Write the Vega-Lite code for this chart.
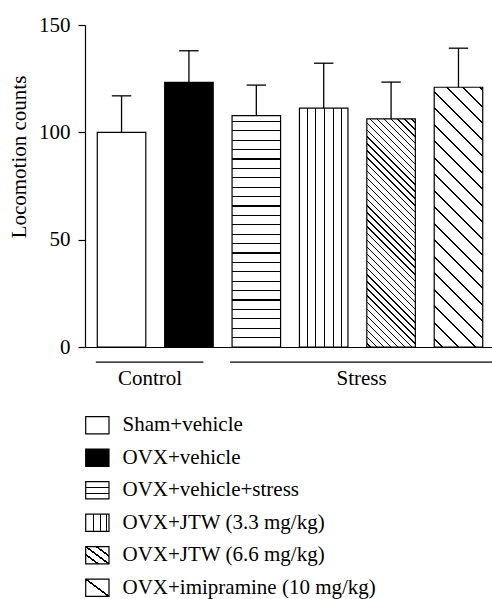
{
  "$schema": "https://vega.github.io/schema/vega-lite/v6.json",
  "padding": {"left": 8, "top": 14, "right": 0, "bottom": 0},
  "datasets": {
    "bars": [
      {"group": "Sham+vehicle", "mean": 100, "upper": 117},
      {"group": "OVX+vehicle", "mean": 123.3, "upper": 138},
      {"group": "OVX+vehicle+stress", "mean": 107.8, "upper": 122},
      {"group": "OVX+JTW (3.3 mg/kg)", "mean": 111.3, "upper": 132.2},
      {"group": "OVX+JTW (6.6 mg/kg)", "mean": 106.3, "upper": 123.4},
      {"group": "OVX+imipramine (10 mg/kg)", "mean": 121, "upper": 139.2}
    ],
    "groups": [
      {"group": "Control", "first": "Sham+vehicle", "last": "OVX+vehicle"},
      {"group": "Stress", "first": "OVX+vehicle+stress", "last": "OVX+imipramine (10 mg/kg)"}
    ]
  },
  "spacing": 20,
  "vconcat": [
    {
      "width": 407,
      "height": 322,
      "layer": [
        {
          "data": {"name": "bars"},
          "mark": {"type": "bar", "stroke": "#000", "strokeWidth": 1.2},
          "encoding": {
            "x": {"field": "group", "type": "nominal", "sort": null,
              "scale": {"domain": ["Sham+vehicle", "OVX+vehicle", "OVX+vehicle+stress", "OVX+JTW (3.3 mg/kg)", "OVX+JTW (6.6 mg/kg)", "OVX+imipramine (10 mg/kg)"], "paddingInner": 0.28, "paddingOuter": 0.16, "align": 0.57},
              "axis": {"title": null, "labels": false, "ticks": false, "domain": true, "domainColor": "#000", "domainWidth": 1.2}},
            "y": {"field": "mean", "type": "quantitative",
              "scale": {"domain": [0, 150], "nice": false},
              "axis": {"title": "Locomotion counts", "values": [0, 50, 100, 150], "tickSize": 7, "labelPadding": 8, "grid": false,
                "titleX": -59.5, "titleY": 131.5, "titleBaseline": "alphabetic"}},
            "fill": {
              "condition": [
                {"test": "datum.group === 'OVX+vehicle'", "value": "#000"},
                {"test": "datum.group === 'OVX+vehicle+stress'", "value": {"gradient": "linear", "x1": 0, "y1": 0, "x2": 0, "y2": 1, "stops": [
                  {"offset": 0, "color": "#fff"},
                  {"offset": 0.0226, "color": "#fff"}, {"offset": 0.0226, "color": "#000"}, {"offset": 0.0276, "color": "#000"}, {"offset": 0.0276, "color": "#fff"},
                  {"offset": 0.0632, "color": "#fff"}, {"offset": 0.0632, "color": "#000"}, {"offset": 0.0682, "color": "#000"}, {"offset": 0.0682, "color": "#fff"},
                  {"offset": 0.1038, "color": "#fff"}, {"offset": 0.1038, "color": "#000"}, {"offset": 0.1088, "color": "#000"}, {"offset": 0.1088, "color": "#fff"},
                  {"offset": 0.1444, "color": "#fff"}, {"offset": 0.1444, "color": "#000"}, {"offset": 0.1494, "color": "#000"}, {"offset": 0.1494, "color": "#fff"},
                  {"offset": 0.1851, "color": "#fff"}, {"offset": 0.1851, "color": "#000"}, {"offset": 0.1901, "color": "#000"}, {"offset": 0.1901, "color": "#fff"},
                  {"offset": 0.2257, "color": "#fff"}, {"offset": 0.2257, "color": "#000"}, {"offset": 0.2307, "color": "#000"}, {"offset": 0.2307, "color": "#fff"},
                  {"offset": 0.2663, "color": "#fff"}, {"offset": 0.2663, "color": "#000"}, {"offset": 0.2713, "color": "#000"}, {"offset": 0.2713, "color": "#fff"},
                  {"offset": 0.3069, "color": "#fff"}, {"offset": 0.3069, "color": "#000"}, {"offset": 0.3119, "color": "#000"}, {"offset": 0.3119, "color": "#fff"},
                  {"offset": 0.3475, "color": "#fff"}, {"offset": 0.3475, "color": "#000"}, {"offset": 0.3525, "color": "#000"}, {"offset": 0.3525, "color": "#fff"},
                  {"offset": 0.3882, "color": "#fff"}, {"offset": 0.3882, "color": "#000"}, {"offset": 0.3932, "color": "#000"}, {"offset": 0.3932, "color": "#fff"},
                  {"offset": 0.4288, "color": "#fff"}, {"offset": 0.4288, "color": "#000"}, {"offset": 0.4338, "color": "#000"}, {"offset": 0.4338, "color": "#fff"},
                  {"offset": 0.4694, "color": "#fff"}, {"offset": 0.4694, "color": "#000"}, {"offset": 0.4744, "color": "#000"}, {"offset": 0.4744, "color": "#fff"},
                  {"offset": 0.5100, "color": "#fff"}, {"offset": 0.5100, "color": "#000"}, {"offset": 0.5150, "color": "#000"}, {"offset": 0.5150, "color": "#fff"},
                  {"offset": 0.5507, "color": "#fff"}, {"offset": 0.5507, "color": "#000"}, {"offset": 0.5557, "color": "#000"}, {"offset": 0.5557, "color": "#fff"},
                  {"offset": 0.5913, "color": "#fff"}, {"offset": 0.5913, "color": "#000"}, {"offset": 0.5963, "color": "#000"}, {"offset": 0.5963, "color": "#fff"},
                  {"offset": 0.6319, "color": "#fff"}, {"offset": 0.6319, "color": "#000"}, {"offset": 0.6369, "color": "#000"}, {"offset": 0.6369, "color": "#fff"},
                  {"offset": 0.6725, "color": "#fff"}, {"offset": 0.6725, "color": "#000"}, {"offset": 0.6775, "color": "#000"}, {"offset": 0.6775, "color": "#fff"},
                  {"offset": 0.7131, "color": "#fff"}, {"offset": 0.7131, "color": "#000"}, {"offset": 0.7181, "color": "#000"}, {"offset": 0.7181, "color": "#fff"},
                  {"offset": 0.7538, "color": "#fff"}, {"offset": 0.7538, "color": "#000"}, {"offset": 0.7588, "color": "#000"}, {"offset": 0.7588, "color": "#fff"},
                  {"offset": 0.7944, "color": "#fff"}, {"offset": 0.7944, "color": "#000"}, {"offset": 0.7994, "color": "#000"}, {"offset": 0.7994, "color": "#fff"},
                  {"offset": 0.8350, "color": "#fff"}, {"offset": 0.8350, "color": "#000"}, {"offset": 0.8400, "color": "#000"}, {"offset": 0.8400, "color": "#fff"},
                  {"offset": 0.8756, "color": "#fff"}, {"offset": 0.8756, "color": "#000"}, {"offset": 0.8806, "color": "#000"}, {"offset": 0.8806, "color": "#fff"},
                  {"offset": 0.9163, "color": "#fff"}, {"offset": 0.9163, "color": "#000"}, {"offset": 0.9213, "color": "#000"}, {"offset": 0.9213, "color": "#fff"},
                  {"offset": 0.9569, "color": "#fff"}, {"offset": 0.9569, "color": "#000"}, {"offset": 0.9619, "color": "#000"}, {"offset": 0.9619, "color": "#fff"},
                  {"offset": 1, "color": "#fff"}
                ]}},
                {"test": "datum.group === 'OVX+JTW (3.3 mg/kg)'", "value": {"gradient": "linear", "x1": 0, "y1": 0, "x2": 1, "y2": 0, "stops": [
                  {"offset": 0, "color": "#fff"},
                  {"offset": 0.1535, "color": "#fff"}, {"offset": 0.1535, "color": "#000"}, {"offset": 0.1761, "color": "#000"}, {"offset": 0.1761, "color": "#fff"},
                  {"offset": 0.3266, "color": "#fff"}, {"offset": 0.3266, "color": "#000"}, {"offset": 0.3492, "color": "#000"}, {"offset": 0.3492, "color": "#fff"},
                  {"offset": 0.5121, "color": "#fff"}, {"offset": 0.5121, "color": "#000"}, {"offset": 0.5347, "color": "#000"}, {"offset": 0.5347, "color": "#fff"},
                  {"offset": 0.6893, "color": "#fff"}, {"offset": 0.6893, "color": "#000"}, {"offset": 0.7119, "color": "#000"}, {"offset": 0.7119, "color": "#fff"},
                  {"offset": 0.8541, "color": "#fff"}, {"offset": 0.8541, "color": "#000"}, {"offset": 0.8767, "color": "#000"}, {"offset": 0.8767, "color": "#fff"},
                  {"offset": 1, "color": "#fff"}
                ]}},
                {"test": "datum.group === 'OVX+JTW (6.6 mg/kg)'", "value": {"gradient": "linear", "x1": 0, "y1": 1, "x2": 0.2467, "y2": -0.1602, "stops": [
                  {"offset": 0, "color": "#fff"},
                  {"offset": 0.0102, "color": "#fff"}, {"offset": 0.0102, "color": "#000"}, {"offset": 0.0152, "color": "#000"}, {"offset": 0.0152, "color": "#fff"},
                  {"offset": 0.0351, "color": "#fff"}, {"offset": 0.0351, "color": "#000"}, {"offset": 0.0401, "color": "#000"}, {"offset": 0.0401, "color": "#fff"},
                  {"offset": 0.0600, "color": "#fff"}, {"offset": 0.0600, "color": "#000"}, {"offset": 0.0650, "color": "#000"}, {"offset": 0.0650, "color": "#fff"},
                  {"offset": 0.0850, "color": "#fff"}, {"offset": 0.0850, "color": "#000"}, {"offset": 0.0900, "color": "#000"}, {"offset": 0.0900, "color": "#fff"},
                  {"offset": 0.1099, "color": "#fff"}, {"offset": 0.1099, "color": "#000"}, {"offset": 0.1149, "color": "#000"}, {"offset": 0.1149, "color": "#fff"},
                  {"offset": 0.1348, "color": "#fff"}, {"offset": 0.1348, "color": "#000"}, {"offset": 0.1398, "color": "#000"}, {"offset": 0.1398, "color": "#fff"},
                  {"offset": 0.1598, "color": "#fff"}, {"offset": 0.1598, "color": "#000"}, {"offset": 0.1648, "color": "#000"}, {"offset": 0.1648, "color": "#fff"},
                  {"offset": 0.1847, "color": "#fff"}, {"offset": 0.1847, "color": "#000"}, {"offset": 0.1897, "color": "#000"}, {"offset": 0.1897, "color": "#fff"},
                  {"offset": 0.2096, "color": "#fff"}, {"offset": 0.2096, "color": "#000"}, {"offset": 0.2146, "color": "#000"}, {"offset": 0.2146, "color": "#fff"},
                  {"offset": 0.2346, "color": "#fff"}, {"offset": 0.2346, "color": "#000"}, {"offset": 0.2396, "color": "#000"}, {"offset": 0.2396, "color": "#fff"},
                  {"offset": 0.2595, "color": "#fff"}, {"offset": 0.2595, "color": "#000"}, {"offset": 0.2645, "color": "#000"}, {"offset": 0.2645, "color": "#fff"},
                  {"offset": 0.2844, "color": "#fff"}, {"offset": 0.2844, "color": "#000"}, {"offset": 0.2894, "color": "#000"}, {"offset": 0.2894, "color": "#fff"},
                  {"offset": 0.3094, "color": "#fff"}, {"offset": 0.3094, "color": "#000"}, {"offset": 0.3144, "color": "#000"}, {"offset": 0.3144, "color": "#fff"},
                  {"offset": 0.3343, "color": "#fff"}, {"offset": 0.3343, "color": "#000"}, {"offset": 0.3393, "color": "#000"}, {"offset": 0.3393, "color": "#fff"},
                  {"offset": 0.3592, "color": "#fff"}, {"offset": 0.3592, "color": "#000"}, {"offset": 0.3642, "color": "#000"}, {"offset": 0.3642, "color": "#fff"},
                  {"offset": 0.3842, "color": "#fff"}, {"offset": 0.3842, "color": "#000"}, {"offset": 0.3892, "color": "#000"}, {"offset": 0.3892, "color": "#fff"},
                  {"offset": 0.4091, "color": "#fff"}, {"offset": 0.4091, "color": "#000"}, {"offset": 0.4141, "color": "#000"}, {"offset": 0.4141, "color": "#fff"},
                  {"offset": 0.4340, "color": "#fff"}, {"offset": 0.4340, "color": "#000"}, {"offset": 0.4390, "color": "#000"}, {"offset": 0.4390, "color": "#fff"},
                  {"offset": 0.4590, "color": "#fff"}, {"offset": 0.4590, "color": "#000"}, {"offset": 0.4640, "color": "#000"}, {"offset": 0.4640, "color": "#fff"},
                  {"offset": 0.4839, "color": "#fff"}, {"offset": 0.4839, "color": "#000"}, {"offset": 0.4889, "color": "#000"}, {"offset": 0.4889, "color": "#fff"},
                  {"offset": 0.5088, "color": "#fff"}, {"offset": 0.5088, "color": "#000"}, {"offset": 0.5138, "color": "#000"}, {"offset": 0.5138, "color": "#fff"},
                  {"offset": 0.5338, "color": "#fff"}, {"offset": 0.5338, "color": "#000"}, {"offset": 0.5388, "color": "#000"}, {"offset": 0.5388, "color": "#fff"},
                  {"offset": 0.5587, "color": "#fff"}, {"offset": 0.5587, "color": "#000"}, {"offset": 0.5637, "color": "#000"}, {"offset": 0.5637, "color": "#fff"},
                  {"offset": 0.5836, "color": "#fff"}, {"offset": 0.5836, "color": "#000"}, {"offset": 0.5886, "color": "#000"}, {"offset": 0.5886, "color": "#fff"},
                  {"offset": 0.6086, "color": "#fff"}, {"offset": 0.6086, "color": "#000"}, {"offset": 0.6136, "color": "#000"}, {"offset": 0.6136, "color": "#fff"},
                  {"offset": 0.6335, "color": "#fff"}, {"offset": 0.6335, "color": "#000"}, {"offset": 0.6385, "color": "#000"}, {"offset": 0.6385, "color": "#fff"},
                  {"offset": 0.6584, "color": "#fff"}, {"offset": 0.6584, "color": "#000"}, {"offset": 0.6634, "color": "#000"}, {"offset": 0.6634, "color": "#fff"},
                  {"offset": 0.6834, "color": "#fff"}, {"offset": 0.6834, "color": "#000"}, {"offset": 0.6884, "color": "#000"}, {"offset": 0.6884, "color": "#fff"},
                  {"offset": 0.7083, "color": "#fff"}, {"offset": 0.7083, "color": "#000"}, {"offset": 0.7133, "color": "#000"}, {"offset": 0.7133, "color": "#fff"},
                  {"offset": 0.7332, "color": "#fff"}, {"offset": 0.7332, "color": "#000"}, {"offset": 0.7382, "color": "#000"}, {"offset": 0.7382, "color": "#fff"},
                  {"offset": 0.7582, "color": "#fff"}, {"offset": 0.7582, "color": "#000"}, {"offset": 0.7632, "color": "#000"}, {"offset": 0.7632, "color": "#fff"},
                  {"offset": 0.7831, "color": "#fff"}, {"offset": 0.7831, "color": "#000"}, {"offset": 0.7881, "color": "#000"}, {"offset": 0.7881, "color": "#fff"},
                  {"offset": 0.8080, "color": "#fff"}, {"offset": 0.8080, "color": "#000"}, {"offset": 0.8130, "color": "#000"}, {"offset": 0.8130, "color": "#fff"},
                  {"offset": 0.8330, "color": "#fff"}, {"offset": 0.8330, "color": "#000"}, {"offset": 0.8380, "color": "#000"}, {"offset": 0.8380, "color": "#fff"},
                  {"offset": 0.8579, "color": "#fff"}, {"offset": 0.8579, "color": "#000"}, {"offset": 0.8629, "color": "#000"}, {"offset": 0.8629, "color": "#fff"},
                  {"offset": 0.8828, "color": "#fff"}, {"offset": 0.8828, "color": "#000"}, {"offset": 0.8878, "color": "#000"}, {"offset": 0.8878, "color": "#fff"},
                  {"offset": 0.9078, "color": "#fff"}, {"offset": 0.9078, "color": "#000"}, {"offset": 0.9128, "color": "#000"}, {"offset": 0.9128, "color": "#fff"},
                  {"offset": 0.9327, "color": "#fff"}, {"offset": 0.9327, "color": "#000"}, {"offset": 0.9377, "color": "#000"}, {"offset": 0.9377, "color": "#fff"},
                  {"offset": 0.9576, "color": "#fff"}, {"offset": 0.9576, "color": "#000"}, {"offset": 0.9626, "color": "#000"}, {"offset": 0.9626, "color": "#fff"},
                  {"offset": 0.9826, "color": "#fff"}, {"offset": 0.9826, "color": "#000"}, {"offset": 0.9876, "color": "#000"}, {"offset": 0.9876, "color": "#fff"},
                  {"offset": 1, "color": "#fff"}
                ]}},
                {"test": "datum.group === 'OVX+imipramine (10 mg/kg)'", "value": {"gradient": "linear", "x1": 0, "y1": 1, "x2": 0.2143, "y2": -0.1468, "stops": [
                  {"offset": 0, "color": "#fff"},
                  {"offset": 0.0226, "color": "#fff"}, {"offset": 0.0226, "color": "#000"}, {"offset": 0.0294, "color": "#000"}, {"offset": 0.0294, "color": "#fff"},
                  {"offset": 0.0761, "color": "#fff"}, {"offset": 0.0761, "color": "#000"}, {"offset": 0.0829, "color": "#000"}, {"offset": 0.0829, "color": "#fff"},
                  {"offset": 0.1296, "color": "#fff"}, {"offset": 0.1296, "color": "#000"}, {"offset": 0.1364, "color": "#000"}, {"offset": 0.1364, "color": "#fff"},
                  {"offset": 0.1832, "color": "#fff"}, {"offset": 0.1832, "color": "#000"}, {"offset": 0.1900, "color": "#000"}, {"offset": 0.1900, "color": "#fff"},
                  {"offset": 0.2367, "color": "#fff"}, {"offset": 0.2367, "color": "#000"}, {"offset": 0.2435, "color": "#000"}, {"offset": 0.2435, "color": "#fff"},
                  {"offset": 0.2902, "color": "#fff"}, {"offset": 0.2902, "color": "#000"}, {"offset": 0.2970, "color": "#000"}, {"offset": 0.2970, "color": "#fff"},
                  {"offset": 0.3437, "color": "#fff"}, {"offset": 0.3437, "color": "#000"}, {"offset": 0.3505, "color": "#000"}, {"offset": 0.3505, "color": "#fff"},
                  {"offset": 0.3973, "color": "#fff"}, {"offset": 0.3973, "color": "#000"}, {"offset": 0.4041, "color": "#000"}, {"offset": 0.4041, "color": "#fff"},
                  {"offset": 0.4508, "color": "#fff"}, {"offset": 0.4508, "color": "#000"}, {"offset": 0.4576, "color": "#000"}, {"offset": 0.4576, "color": "#fff"},
                  {"offset": 0.5043, "color": "#fff"}, {"offset": 0.5043, "color": "#000"}, {"offset": 0.5111, "color": "#000"}, {"offset": 0.5111, "color": "#fff"},
                  {"offset": 0.5579, "color": "#fff"}, {"offset": 0.5579, "color": "#000"}, {"offset": 0.5647, "color": "#000"}, {"offset": 0.5647, "color": "#fff"},
                  {"offset": 0.6114, "color": "#fff"}, {"offset": 0.6114, "color": "#000"}, {"offset": 0.6182, "color": "#000"}, {"offset": 0.6182, "color": "#fff"},
                  {"offset": 0.6649, "color": "#fff"}, {"offset": 0.6649, "color": "#000"}, {"offset": 0.6717, "color": "#000"}, {"offset": 0.6717, "color": "#fff"},
                  {"offset": 0.7185, "color": "#fff"}, {"offset": 0.7185, "color": "#000"}, {"offset": 0.7253, "color": "#000"}, {"offset": 0.7253, "color": "#fff"},
                  {"offset": 0.7720, "color": "#fff"}, {"offset": 0.7720, "color": "#000"}, {"offset": 0.7788, "color": "#000"}, {"offset": 0.7788, "color": "#fff"},
                  {"offset": 0.8255, "color": "#fff"}, {"offset": 0.8255, "color": "#000"}, {"offset": 0.8323, "color": "#000"}, {"offset": 0.8323, "color": "#fff"},
                  {"offset": 0.8791, "color": "#fff"}, {"offset": 0.8791, "color": "#000"}, {"offset": 0.8859, "color": "#000"}, {"offset": 0.8859, "color": "#fff"},
                  {"offset": 0.9326, "color": "#fff"}, {"offset": 0.9326, "color": "#000"}, {"offset": 0.9394, "color": "#000"}, {"offset": 0.9394, "color": "#fff"},
                  {"offset": 0.9861, "color": "#fff"}, {"offset": 0.9861, "color": "#000"}, {"offset": 0.9929, "color": "#000"}, {"offset": 0.9929, "color": "#fff"},
                  {"offset": 1, "color": "#fff"}
                ]}}
              ],
              "value": "#fff"
            }
          }
        },
        {
          "data": {"name": "bars"},
          "mark": {"type": "rule", "color": "#000", "strokeWidth": 1.3},
          "encoding": {
            "x": {"field": "group", "type": "nominal", "sort": null, "axis": {"title": null, "labels": false, "ticks": false}},
            "y": {"field": "mean", "type": "quantitative"},
            "y2": {"field": "upper"}
          }
        },
        {
          "data": {"name": "bars"},
          "mark": {"type": "rule", "color": "#000", "strokeWidth": 1.3},
          "encoding": {
            "x": {"field": "group", "type": "nominal", "sort": null, "bandPosition": 0.3, "axis": {"title": null, "labels": false, "ticks": false}},
            "x2": {"field": "group", "bandPosition": 0.7},
            "y": {"field": "upper", "type": "quantitative"}
          }
        },
        {
          "data": {"name": "groups"},
          "transform": [{"filter": "datum.group === 'Control'"}],
          "mark": {"type": "rule", "color": "#000", "strokeWidth": 1.3},
          "encoding": {
            "x": {"field": "first", "type": "nominal", "sort": null, "bandPosition": -0.03, "axis": {"title": null, "labels": false, "ticks": false}},
            "x2": {"field": "last", "bandPosition": 0.8},
            "y": {"datum": -7, "type": "quantitative"}
          }
        },
        {
          "data": {"name": "groups"},
          "transform": [{"filter": "datum.group === 'Stress'"}],
          "mark": {"type": "rule", "color": "#000", "strokeWidth": 1.3},
          "encoding": {
            "x": {"field": "first", "type": "nominal", "sort": null, "bandPosition": -0.04, "axis": {"title": null, "labels": false, "ticks": false}},
            "x2": {"field": "last", "bandPosition": 1.19},
            "y": {"datum": -7, "type": "quantitative"}
          }
        },
        {
          "data": {"name": "groups"},
          "transform": [{"filter": "datum.group === 'Control'"}],
          "mark": {"type": "text", "font": "Liberation Serif", "fontSize": 21, "color": "#000", "align": "center", "baseline": "alphabetic"},
          "encoding": {
            "x": {"field": "first", "type": "nominal", "sort": null, "bandPosition": 1.087, "axis": {"title": null, "labels": false, "ticks": false}},
            "y": {"datum": -17.7, "type": "quantitative"},
            "text": {"field": "group"}
          }
        },
        {
          "data": {"name": "groups"},
          "transform": [{"filter": "datum.group === 'Stress'"}],
          "mark": {"type": "text", "font": "Liberation Serif", "fontSize": 21, "color": "#000", "align": "center", "baseline": "alphabetic"},
          "encoding": {
            "x": {"field": "first", "type": "nominal", "sort": null, "bandPosition": 2.67, "axis": {"title": null, "labels": false, "ticks": false}},
            "y": {"datum": -17.7, "type": "quantitative"},
            "text": {"field": "group"}
          }
        }
      ]
    },
    {
      "width": 407,
      "height": 195,
      "data": {"name": "bars"},
      "encoding": {
        "y": {"field": "group", "type": "nominal", "sort": null,
          "scale": {"domain": ["Sham+vehicle", "OVX+vehicle", "OVX+vehicle+stress", "OVX+JTW (3.3 mg/kg)", "OVX+JTW (6.6 mg/kg)", "OVX+imipramine (10 mg/kg)"], "paddingInner": 0.468, "paddingOuter": 0.234},
          "axis": null}
      },
      "layer": [
        {
          "mark": {"type": "bar", "stroke": "#000", "strokeWidth": 1.2},
          "encoding": {
            "x": {"datum": 0.03, "type": "quantitative", "scale": {"domain": [0, 17.47], "nice": false}, "axis": null},
            "x2": {"datum": 1.03},
            "fill": {
              "condition": [
                {"test": "datum.group === 'OVX+vehicle'", "value": "#000"},
                {"test": "datum.group === 'OVX+vehicle+stress'", "value": {"gradient": "linear", "x1": 0, "y1": 0, "x2": 0, "y2": 1, "stops": [
                  {"offset": 0, "color": "#fff"},
                  {"offset": 0.298, "color": "#fff"}, {"offset": 0.298, "color": "#000"}, {"offset": 0.368, "color": "#000"}, {"offset": 0.368, "color": "#fff"},
                  {"offset": 0.632, "color": "#fff"}, {"offset": 0.632, "color": "#000"}, {"offset": 0.702, "color": "#000"}, {"offset": 0.702, "color": "#fff"},
                  {"offset": 1, "color": "#fff"}
                ]}},
                {"test": "datum.group === 'OVX+JTW (3.3 mg/kg)'", "value": {"gradient": "linear", "x1": 0, "y1": 0, "x2": 1, "y2": 0, "stops": [
                  {"offset": 0, "color": "#fff"},
                  {"offset": 0.305, "color": "#fff"}, {"offset": 0.305, "color": "#000"}, {"offset": 0.355, "color": "#000"}, {"offset": 0.355, "color": "#fff"},
                  {"offset": 0.615, "color": "#fff"}, {"offset": 0.615, "color": "#000"}, {"offset": 0.665, "color": "#000"}, {"offset": 0.665, "color": "#fff"},
                  {"offset": 0.875, "color": "#fff"}, {"offset": 0.875, "color": "#000"}, {"offset": 0.925, "color": "#000"}, {"offset": 0.925, "color": "#fff"},
                  {"offset": 1, "color": "#fff"}
                ]}},
                {"test": "datum.group === 'OVX+JTW (6.6 mg/kg)'", "value": {"gradient": "linear", "x1": 0, "y1": 1, "x2": 1, "y2": 0, "stops": [
                  {"offset": 0, "color": "#fff"},
                  {"offset": 0.24, "color": "#fff"}, {"offset": 0.24, "color": "#000"}, {"offset": 0.3, "color": "#000"}, {"offset": 0.3, "color": "#fff"},
                  {"offset": 0.47, "color": "#fff"}, {"offset": 0.47, "color": "#000"}, {"offset": 0.53, "color": "#000"}, {"offset": 0.53, "color": "#fff"},
                  {"offset": 0.7, "color": "#fff"}, {"offset": 0.7, "color": "#000"}, {"offset": 0.76, "color": "#000"}, {"offset": 0.76, "color": "#fff"},
                  {"offset": 1, "color": "#fff"}
                ]}},
                {"test": "datum.group === 'OVX+imipramine (10 mg/kg)'", "value": {"gradient": "linear", "x1": 0, "y1": 1, "x2": 1, "y2": 0, "stops": [
                  {"offset": 0, "color": "#fff"},
                  {"offset": 0.47, "color": "#fff"}, {"offset": 0.47, "color": "#000"}, {"offset": 0.53, "color": "#000"}, {"offset": 0.53, "color": "#fff"},
                  {"offset": 1, "color": "#fff"}
                ]}}
              ],
              "value": "#fff"
            }
          }
        },
        {
          "mark": {"type": "text", "font": "Liberation Serif", "fontSize": 21, "color": "#000", "align": "left", "baseline": "middle"},
          "encoding": {
            "x": {"datum": 1.61, "type": "quantitative"},
            "text": {"field": "group"}
          }
        }
      ]
    }
  ],
  "config": {
    "view": {"stroke": null},
    "font": "Liberation Serif",
    "axis": {
      "labelFont": "Liberation Serif", "labelFontSize": 21, "labelColor": "#000",
      "titleFont": "Liberation Serif", "titleFontSize": 21, "titleFontWeight": "normal", "titleColor": "#000",
      "domainColor": "#000", "domainWidth": 1.2, "tickColor": "#000", "tickWidth": 1.2, "grid": false
    }
  }
}
